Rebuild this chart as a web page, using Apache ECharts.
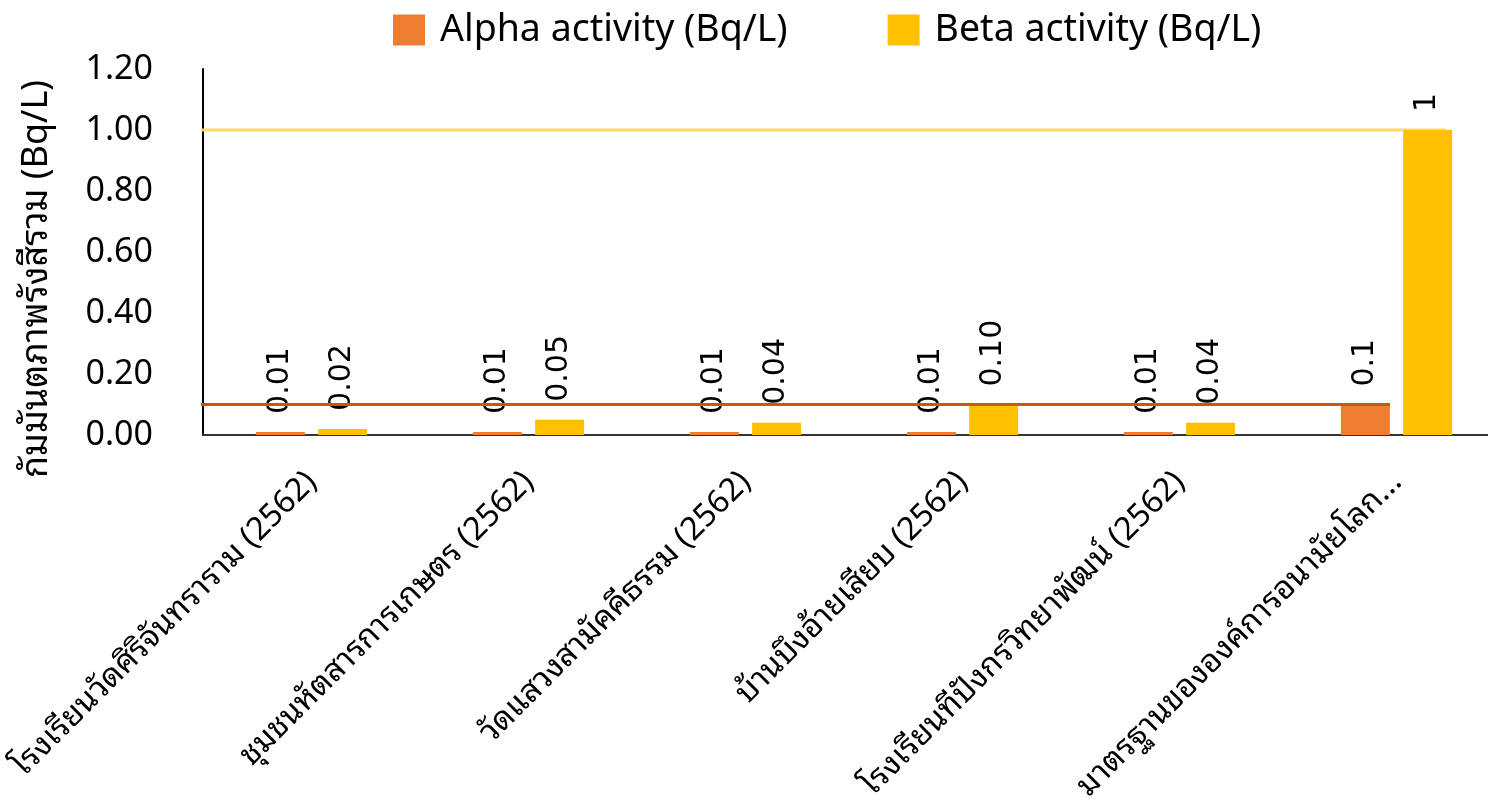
<!DOCTYPE html>
<html>
<head>
<meta charset="utf-8">
<script src="https://cdn.jsdelivr.net/npm/echarts@6/dist/echarts.min.js"></script>
<style>
  html, body { margin: 0; padding: 0; background: #ffffff; }
  #chart { width: 1488px; height: 809px; }
</style>
</head>
<body>
<div id="chart"></div>
<script>
// Sampling sites (year of sampling in parentheses) plus the WHO guideline column
const categories = [
  'โรงเรียนวัดศิริจันทราราม (2562)',
  'ชุมชนหัตสารการเกษตร (2562)',
  'วัดแสวงสามัคคีธรรม (2562)',
  'บ้านบึงอ้ายเสียบ (2562)',
  'โรงเรียนทีปังกรวิทยาพัฒน์ (2562)',
  'มาตรฐานขององค์การอนามัยโลก...'
];
const alphaValues = [0.01, 0.01, 0.01, 0.01, 0.01, 0.1];
const betaValues  = [0.02, 0.05, 0.04, 0.10, 0.04, 1];
// Value labels as printed on each bar
const alphaLabels = ['0.01', '0.01', '0.01', '0.01', '0.01', '0.1'];
const betaLabels  = ['0.02', '0.05', '0.04', '0.10', '0.04', '1'];
const alphaLimit = 0.1;
const betaLimit = 1;
const yTicks = ['0.00', '0.20', '0.40', '0.60', '0.80', '1.00', '1.20'];

const thaiFont = "'Noto Sans', 'Noto Sans Thai Looped', 'Loma', 'Garuda', 'Sarabun', 'Noto Sans Thai', sans-serif";
const numFont = "'DejaVu Sans', sans-serif";

const chart = echarts.init(document.getElementById('chart'), null, { renderer: 'canvas' });

chart.setOption({
  animation: false,
  backgroundColor: '#ffffff',
  legend: {
    left: 388,
    top: 6,
    icon: 'rect',
    itemWidth: 32,
    itemHeight: 31,
    itemGap: 100,
    textStyle: { fontFamily: thaiFont, fontSize: 37.5, color: '#000', padding: [0, 0, 0, 10] },
    data: ['Alpha activity (Bq/L)', 'Beta activity (Bq/L)']
  },
  grid: {
    left: 203, right: -17, top: 69, bottom: 374,
    containLabel: false,
    outerBoundsMode: 'none'
  },
  xAxis: [
    {
      type: 'category',
      data: categories,
      axisLine: { show: true, lineStyle: { color: '#333', width: 2 } },
      axisTick: { show: false },
      axisLabel: {
        rotate: 45,
        interval: 0,
        margin: 42,
        fontFamily: thaiFont,
        fontSize: 32,
        color: '#000'
      }
    },
    {
      // helper axis for the guideline segments, one unit per category
      type: 'value',
      min: 0,
      max: categories.length,
      show: false
    }
  ],
  yAxis: {
    type: 'value',
    min: 0,
    max: 1.2,
    interval: 0.2,
    name: 'กัมมันตภาพรังสีรวม (Bq/L)',
    nameLocation: 'middle',
    nameGap: 148,
    nameTextStyle: { fontFamily: thaiFont, fontSize: 36, color: '#000', padding: [0, 54, 0, 0] },
    axisLine: { show: true, lineStyle: { color: '#000', width: 2 } },
    axisTick: { show: false },
    splitLine: { show: false },
    axisLabel: {
      margin: 50,
      fontFamily: thaiFont,
      fontSize: 34,
      color: '#000',
      padding: [0, 0, 8, 0],
      formatter: (v) => yTicks[Math.round(v / 0.2)]
    }
  },
  series: [
    {
      name: 'Alpha activity (Bq/L)',
      type: 'bar',
      data: alphaValues,
      barWidth: 49,
      barGap: '27%',
      itemStyle: { color: '#ED7D31' },
      label: {
        show: true,
        position: 'top',
        rotate: 90,
        align: 'left',
        verticalAlign: 'middle',
        distance: 18,
        fontFamily: numFont,
        fontSize: 30,
        color: '#000',
        formatter: (p) => alphaLabels[p.dataIndex]
      }
    },
    {
      name: 'Beta activity (Bq/L)',
      type: 'bar',
      data: betaValues,
      barWidth: 49,
      itemStyle: { color: '#FFC000' },
      label: {
        show: true,
        position: 'top',
        rotate: 90,
        align: 'left',
        verticalAlign: 'middle',
        distance: 18,
        fontFamily: numFont,
        fontSize: 30,
        color: '#000',
        formatter: (p) => betaLabels[p.dataIndex]
      }
    },
    {
      // alpha guideline, drawn across to the last alpha bar
      type: 'line',
      xAxisIndex: 1,
      silent: true,
      clip: false,
      symbol: 'none',
      z: 5,
      lineStyle: { color: '#C55A11', width: 3 },
      data: [[-0.045, alphaLimit], [5.47, alphaLimit]]
    },
    {
      // beta guideline, drawn across to the last beta bar
      type: 'line',
      xAxisIndex: 1,
      silent: true,
      clip: false,
      symbol: 'none',
      z: 1,
      lineStyle: { color: '#FFD966', width: 3 },
      data: [[-0.045, betaLimit], [5.73, betaLimit]]
    }
  ]
});
</script>
</body>
</html>
